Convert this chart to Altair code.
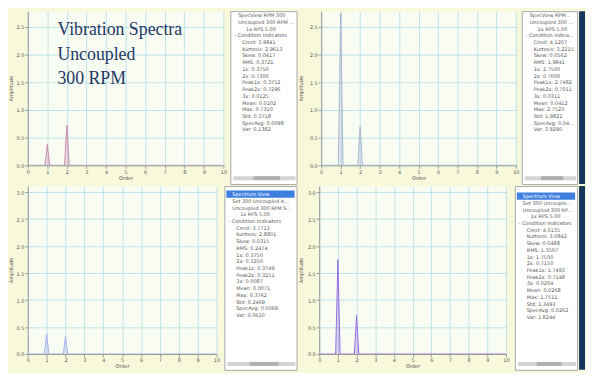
import altair as alt
import pandas as pd

# ------------------------------------------------------------------ data
orders = [0.0, 0.88, 1.0, 1.12, 1.88, 2.0, 2.12, 10.0]
amp_top_left = [0, 0, 0.375, 0, 0, 0.73, 0, 0]
amp_top_right = [0, 0, 2.75, 0, 0, 0.70, 0, 0]
amp_bottom_left = [0, 0, 0.375, 0, 0, 0.325, 0, 0]
amp_bottom_right = [0, 0, 1.75, 0, 0, 0.715, 0, 0]

x_ticks = [0, 1, 2, 3, 4, 5, 6, 7, 8, 9, 10]
y_ticks = [0, 0.5, 1.0, 1.5, 2.0, 2.5, 3.0]
overlay_lines = ["Vibration Spectra", "Uncoupled", "300 RPM"]

indicator_names = ["Crest", "Kurtosis", "Skew", "RMS", "1x", "2x", "Peak1x",
                   "Peak2x", "3x", "Mean", "Max", "Std", "SpecAvg", "Var"]
values_tl = ["3.9841", "2.9613", "0.0417", "0.3721", "0.3750", "0.7300", "0.3752",
             "0.7296", "0.0125", "0.0102", "0.7310", "0.3718", "0.0098", "0.1382"]
values_tr = ["4.1207", "3.2215", "0.0562", "1.9841", "2.7500", "0.7000", "2.7482",
             "0.7011", "0.0311", "0.0412", "2.7520", "1.9822", "0.0405", "3.9290"]
values_bl = ["3.7713", "2.8801", "0.0315", "0.2474", "0.3750", "0.3250", "0.3749",
             "0.3251", "0.0087", "0.0071", "0.3762", "0.2469", "0.0069", "0.0610"]
values_br = ["4.0135", "3.0842", "0.0488", "1.3507", "1.7500", "0.7150", "1.7493",
             "0.7148", "0.0204", "0.0268", "1.7511", "1.3493", "0.0262", "1.8244"]

head_tl = ["SpecView   RPM 300", "Uncoupled 300 RPM  Spectrum (All)", "1x RPS 5.00", "- Condition Indicators"]
head_tr = ["SpecView   RPM 300", "Uncoupled 300 RPM  Spectrum (All)", "1x RPS 5.00", "- Condition Indicators"]
head_bl = ["Spectrum View", "Set 300  Uncoupled  Axial", "Uncoupled 300 RPM  Spectrum", "1x RPS 5.00", "- Condition Indicators"]
head_br = ["Spectrum View", "Set 300  Uncoupled  Radial", "Uncoupled 300 RPM  Spectrum", "1x RPS 5.00", "- Condition Indicators"]
head_levels_top = [1, 1, 3, 0]
head_levels_bottom = [1, 1, 1, 3, 0]

# ------------------------------------------------------------------ style
NAVY = "#17375e"
BG = "#f8f8da"
PLOT_BG = "#f9fcf3"
GRID = "#bfe3ea"
AXIS = "#9a9a9a"
LABEL = "#555555"
FONT = "DejaVu Sans"
ROW_PX = 6.8


def panel(amp, color, w, h, ymax, ext, tick_vals, overlay=False):
    df = pd.DataFrame({"order": orders, "amp": amp})
    x = alt.X("order:Q",
              scale=alt.Scale(domain=[0, 10], nice=False, zero=False),
              axis=alt.Axis(values=x_ticks, format="d", title="Order", grid=True,
                            gridColor=GRID, gridWidth=1, tickSize=3, tickColor=AXIS,
                            domainColor=AXIS, labelFontSize=5, titleFontSize=5,
                            labelPadding=1, titlePadding=1, labelColor=LABEL,
                            titleColor=LABEL, labelFont=FONT, titleFont=FONT,
                            titleFontWeight="normal", labelFlush=False))
    y = alt.Y("amp:Q",
              scale=alt.Scale(domain=[0, ymax], nice=False, zero=True),
              axis=alt.Axis(values=tick_vals, format=".1f", title="Amplitude", grid=True,
                            gridColor=GRID, gridWidth=1, tickSize=3, tickColor=AXIS,
                            domainColor=AXIS, labelFontSize=5, titleFontSize=5,
                            labelPadding=1, titlePadding=2, labelColor=LABEL,
                            titleColor=LABEL, labelFont=FONT, titleFont=FONT,
                            titleFontWeight="normal", minExtent=ext, maxExtent=ext))
    layers = [
        alt.Chart(df).mark_area(color=color, opacity=0.3, clip=True,
                                line=alt.OverlayMarkDef(color=color, strokeWidth=1))
        .encode(x=x, y=y)
    ]
    if overlay:
        for i, t in enumerate(overlay_lines):
            layers.append(
                alt.Chart(pd.DataFrame({"t": [t]})).mark_text(
                    font="Liberation Serif", fontSize=18, color="#1f3864",
                    align="left", baseline="alphabetic")
                .encode(x=alt.value(30), y=alt.value(24 + 25 * i), text="t:N")
            )
    return alt.layer(*layers).properties(
        width=w, height=h,
        view=alt.ViewBackground(fill=PLOT_BG, stroke="transparent"))


def legend(head, levels, values, w, h, gap, first_row, highlight=False):
    texts = list(head) + [f"{n}: {v}" for n, v in zip(indicator_names, values)]
    lv = list(levels) + [2] * len(indicator_names)
    df = pd.DataFrame({"text": texts, "level": lv, "row": list(range(len(texts)))})
    nrow = h / ROW_PX
    y_scale = alt.Scale(domain=[-first_row, nrow - first_row], reverse=True, nice=False, zero=False)
    y_axis = alt.Axis(values=[0], labels=False, ticks=True, tickSize=max(gap, 1), tickOpacity=0,
                      domain=False, grid=False, title=None,
                      minExtent=gap, maxExtent=gap)
    y = alt.Y("row:Q", scale=y_scale, axis=y_axis)
    x = alt.X("level:Q", scale=alt.Scale(domain=[-1, w / 4.0 - 1], nice=False, zero=False),
              axis=None)
    layers = []
    if highlight:
        layers.append(
            alt.Chart(df).transform_filter("datum.row == 0")
            .transform_calculate(y0="datum.row - 0.55", y1="datum.row + 0.55")
            .mark_rect(color="#3f7fe0")
            .encode(x=alt.value(2), x2=alt.value(w - 2),
                    y=alt.Y("y0:Q", scale=y_scale, axis=y_axis), y2="y1:Q")
        )
    hl = "true" if highlight else "false"
    for k in sorted(set(lv)):
        layers.append(
            alt.Chart(df).transform_filter(f"datum.level == {k}")
            .mark_text(align="left", baseline="middle", fontSize=5, font=FONT,
                       limit=max(w - 4 * (k + 1) - 2, 5), ellipsis="")
            .encode(x=x, y=y, text="text:N",
                    color=alt.condition("datum.row == 0 && " + hl,
                                        alt.value("#ffffff"), alt.value("#555555")))
        )
    layers.append(
        alt.Chart(df).transform_filter("datum.row == 0").mark_rect(color="#d4d4d4")
        .encode(x=alt.value(3), x2=alt.value(w - 1), y=alt.value(h - 8), y2=alt.value(h - 4))
    )
    layers.append(
        alt.Chart(df).transform_filter("datum.row == 0").mark_rect(color="#b0b0b0")
        .encode(x=alt.value(w * 0.35), x2=alt.value(w * 0.75), y=alt.value(h - 8), y2=alt.value(h - 4))
    )
    return alt.layer(*layers).properties(
        width=w, height=h,
        view=alt.ViewBackground(fill="#ffffff", stroke="#a8a8a8", strokeWidth=1))


def strip(h):
    df = pd.DataFrame({"order": orders})
    return alt.Chart(df).mark_point(opacity=0, size=1).encode(
        x=alt.X("order:Q", axis=None), y=alt.Y("order:Q", axis=None)
    ).properties(width=6, height=h,
                 view=alt.ViewBackground(fill=NAVY, stroke=NAVY, strokeWidth=0))


TOP_H, BOT_H = 156, 170
top_ymax = TOP_H / 28.0 * 0.5
bot_ymax = BOT_H / 27.3 * 0.5

p_tl = panel(amp_top_left, "#c98aab", 198, TOP_H, top_ymax, 12, y_ticks[:6], overlay=True)
p_tr = panel(amp_top_right, "#a9b6cf", 197, TOP_H, top_ymax, 16, y_ticks[:6])
p_bl = panel(amp_bottom_left, "#a9b0ee", 191, BOT_H, bot_ymax, 12, y_ticks)
p_br = panel(amp_bottom_right, "#9470e0", 189, BOT_H, bot_ymax, 14, y_ticks)

l_tl = legend(head_tl, head_levels_top, values_tl, 67, 175, 2, 0.6)
l_tr = legend(head_tr, head_levels_top, values_tr, 56, 175, 1, 0.6)
l_bl = legend(head_bl, head_levels_bottom, values_bl, 73, 186, 3, 1.2, highlight=True)
l_br = legend(head_br, head_levels_bottom, values_br, 63, 186, 4, 1.5, highlight=True)

top = alt.hconcat(p_tl, l_tl, p_tr, l_tr, strip(175), spacing=0)
bottom = alt.hconcat(p_bl, l_bl, p_br, l_br, strip(186), spacing=0)

chart = alt.vconcat(top, bottom, spacing=0).properties(background=BG, padding=0)

chart.save("out.html", embed_options={"renderer": "svg", "actions": False})
